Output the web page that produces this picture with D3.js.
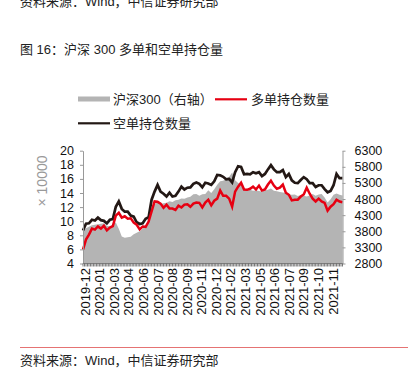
<!DOCTYPE html>
<html>
<head>
<meta charset="utf-8">
<script src="https://cdn.jsdelivr.net/npm/d3@7"></script>
<style>
body { margin: 0; background: #fff; }
svg text { font-family: "Liberation Sans", "Noto Sans CJK SC", sans-serif; }
</style>
</head>
<body>
<svg id="chart" width="408" height="368"></svg>
<script>
// x labels, shown every few points
var tickLabels = ["2019-12", "2020-01", "2020-03", "2020-04", "2020-06", "2020-07", "2020-08", "2020-09",
    "2020-11", "2020-12", "2021-02", "2021-03", "2021-05", "2021-06", "2021-07", "2021-09", "2021-10", "2021-11"];

// 沪深300 close (right axis)
var hs300 = [3822, 3890, 3940, 3985, 4002, 4020, 4031, 4046, 3970, 3950, 4015, 4075, 3880, 3640, 3598, 3615,
    3630, 3705, 3752, 3798, 3880, 3985, 4140, 4435, 4635, 4715, 4650, 4668, 4685, 4730, 4712, 4760,
    4775, 4820, 4806, 4850, 4868, 4945, 4960, 4900, 4945, 4960, 5070, 4990, 5100, 5240, 5350, 5365,
    5440, 5490, 5625, 5380, 5300, 5255, 5150, 5068, 5085, 5055, 5070, 5052, 5035, 5068, 5085, 5130,
    5055, 5038, 5022, 5005, 4990, 4945, 4930, 4944, 4898, 4914, 4900, 4880, 4912, 4960, 4900, 4944,
    4960, 4850, 4690, 4790, 4930, 4975, 4930, 4910];

// 多单持仓数量 (x 10000)
var longPos = [5.98, 7.40, 8.10, 8.95, 8.80, 9.25, 8.95, 9.35, 8.70, 9.10, 9.30, 10.80, 11.20, 10.50, 10.70, 10.35,
    10.40, 9.80, 9.50, 8.85, 9.25, 9.20, 9.95, 11.40, 12.80, 12.75, 12.50, 11.90, 12.35, 11.80, 11.80, 11.60,
    12.20, 11.95, 12.35, 12.40, 12.05, 12.50, 12.65, 12.60, 11.95, 12.65, 13.05, 12.25, 12.90, 13.20, 14.35, 13.60,
    13.60, 13.20, 12.05, 14.20, 14.90, 15.45, 14.50, 14.45, 14.60, 14.90, 14.50, 15.05, 14.35, 14.50, 15.20, 15.75,
    15.05, 14.60, 14.75, 15.20, 14.05, 13.75, 12.95, 13.05, 13.05, 13.50, 13.80, 14.75, 13.90, 13.20, 12.80, 13.20,
    12.80, 12.60, 11.50, 12.05, 12.40, 13.05, 12.80, 12.70];

// 空单持仓数量 (x 10000)
var shortPos = [8.67, 9.65, 9.70, 10.20, 10.10, 10.50, 10.15, 10.05, 9.70, 10.20, 10.30, 12.05, 12.80, 11.75, 11.35, 11.35,
    10.80, 10.65, 9.85, 9.60, 9.70, 10.35, 10.55, 13.05, 14.20, 15.15, 14.20, 13.90, 13.50, 14.05, 13.50, 13.60,
    14.20, 14.90, 14.50, 14.75, 14.80, 15.30, 15.50, 15.30, 14.80, 15.45, 15.35, 15.15, 15.65, 16.55, 16.50, 16.30,
    15.95, 16.00, 15.50, 16.95, 17.80, 17.70, 16.65, 16.70, 16.65, 16.95, 16.80, 16.95, 16.40, 16.70, 17.35, 17.95,
    17.35, 16.95, 16.95, 17.25, 16.25, 16.70, 15.80, 15.45, 15.40, 15.85, 16.25, 15.95, 15.40, 15.40, 14.85, 15.10,
    15.10, 14.55, 14.10, 14.30, 15.10, 16.70, 16.10, 16.10];

var leftTicks = [4, 6, 8, 10, 12, 14, 16, 18, 20];
var rightTicks = [2800, 3300, 3800, 4300, 4800, 5300, 5800, 6300];

var svg = d3.select("#chart");

var plotLeft = 83, plotRight = 342.5, plotTop = 150.7, plotBottom = 263.5;

var x = d3.scaleLinear().domain([0, hs300.length - 1]).range([plotLeft, plotRight]);
var yL = d3.scaleLinear().domain([4, 20]).range([plotBottom, plotTop]);
var yR = d3.scaleLinear().domain([2800, 6300]).range([plotBottom, plotTop]);

// texts around the chart
svg.append("text").attr("x", 20).attr("y", 6).attr("font-size", 13).attr("fill", "#222")
    .text("资料来源：Wind，中信证券研究部");
svg.append("text").attr("x", 20).attr("y", 54).attr("font-size", 13).attr("fill", "#222")
    .text("图 16：沪深 300 多单和空单持仓量");
svg.append("line").attr("x1", 20).attr("x2", 408).attr("y1", 347.5).attr("y2", 347.5)
    .attr("stroke", "#e57373").attr("stroke-width", 1);
svg.append("text").attr("x", 20).attr("y", 365).attr("font-size", 13).attr("fill", "#222")
    .text("资料来源：Wind，中信证券研究部");

// legend
var lg = svg.append("g").attr("font-size", 13).attr("fill", "#222");
lg.append("rect").attr("x", 78).attr("y", 96.5).attr("width", 32).attr("height", 5).attr("fill", "#b4b4b4");
lg.append("text").attr("x", 113).attr("y", 103.5).text("沪深300（右轴）");
lg.append("line").attr("x1", 215).attr("x2", 247).attr("y1", 99.3).attr("y2", 99.3)
    .attr("stroke", "#e60012").attr("stroke-width", 2.2);
lg.append("text").attr("x", 251).attr("y", 103.5).text("多单持仓数量");
lg.append("line").attr("x1", 78).attr("x2", 110).attr("y1", 123.3).attr("y2", 123.3)
    .attr("stroke", "#231815").attr("stroke-width", 2.2);
lg.append("text").attr("x", 113).attr("y", 127.5).text("空单持仓数量");

// area for index
var area = d3.area()
    .x(function (d, i) { return x(i); })
    .y0(plotBottom)
    .y1(function (d) { return yR(d); });

svg.append("path").datum(hs300)
    .attr("d", area)
    .attr("fill", "#b4b4b4");

var lineL = d3.line()
    .x(function (d, i) { return x(i); })
    .y(function (d) { return yL(d); });

svg.append("path").datum(shortPos)
    .attr("d", lineL)
    .attr("fill", "none")
    .attr("stroke", "#231815")
    .attr("stroke-width", 2.7)
    .attr("stroke-linejoin", "miter");

svg.append("path").datum(longPos)
    .attr("d", lineL)
    .attr("fill", "none")
    .attr("stroke", "#e60012")
    .attr("stroke-width", 2.5)
    .attr("stroke-linejoin", "miter");

// axes
var axL = svg.append("g").attr("transform", "translate(" + plotLeft + ",0)")
    .call(d3.axisLeft(yL).tickValues(leftTicks).tickSize(3).tickSizeOuter(0).tickPadding(6));
var axR = svg.append("g").attr("transform", "translate(" + plotRight + ",0)")
    .call(d3.axisRight(yR).tickValues(rightTicks).tickFormat(d3.format("d"))
        .tickSize(3).tickSizeOuter(0).tickPadding(9));
[axL, axR].forEach(function (a) {
    a.select(".domain").attr("stroke", "#999");
    a.selectAll(".tick line").attr("stroke", "#999");
    a.selectAll(".tick text").attr("font-size", 12.5).attr("fill", "#111")
        .attr("font-family", "Liberation Sans");
});

svg.append("text")
    .attr("transform", "translate(47,181) rotate(-90)")
    .attr("text-anchor", "middle")
    .attr("font-size", 14)
    .attr("fill", "#999")
    .text("× 10000");

// x axis: baseline and dense category ticks
svg.append("line").attr("x1", plotLeft).attr("x2", plotRight)
    .attr("y1", plotBottom).attr("y2", plotBottom).attr("stroke", "#888");
svg.append("g").selectAll("line")
    .data(d3.range(0, hs300.length - 0.9, 0.5))
    .enter().append("line")
    .attr("x1", function (d) { return x(d); })
    .attr("x2", function (d) { return x(d); })
    .attr("y1", plotBottom)
    .attr("y2", plotBottom + 3)
    .attr("stroke", "#555")
    .attr("stroke-width", 0.8);

var xl = d3.scalePoint().domain(tickLabels).range([85, 333]);
svg.append("g").selectAll("text")
    .data(tickLabels)
    .enter().append("text")
    .attr("transform", function (d) { return "translate(" + xl(d) + ",268) rotate(-90)"; })
    .attr("text-anchor", "end")
    .attr("dy", "0.35em")
    .attr("font-size", 13)
    .attr("fill", "#111")
    .text(function (d) { return d; });
</script>
</body>
</html>
